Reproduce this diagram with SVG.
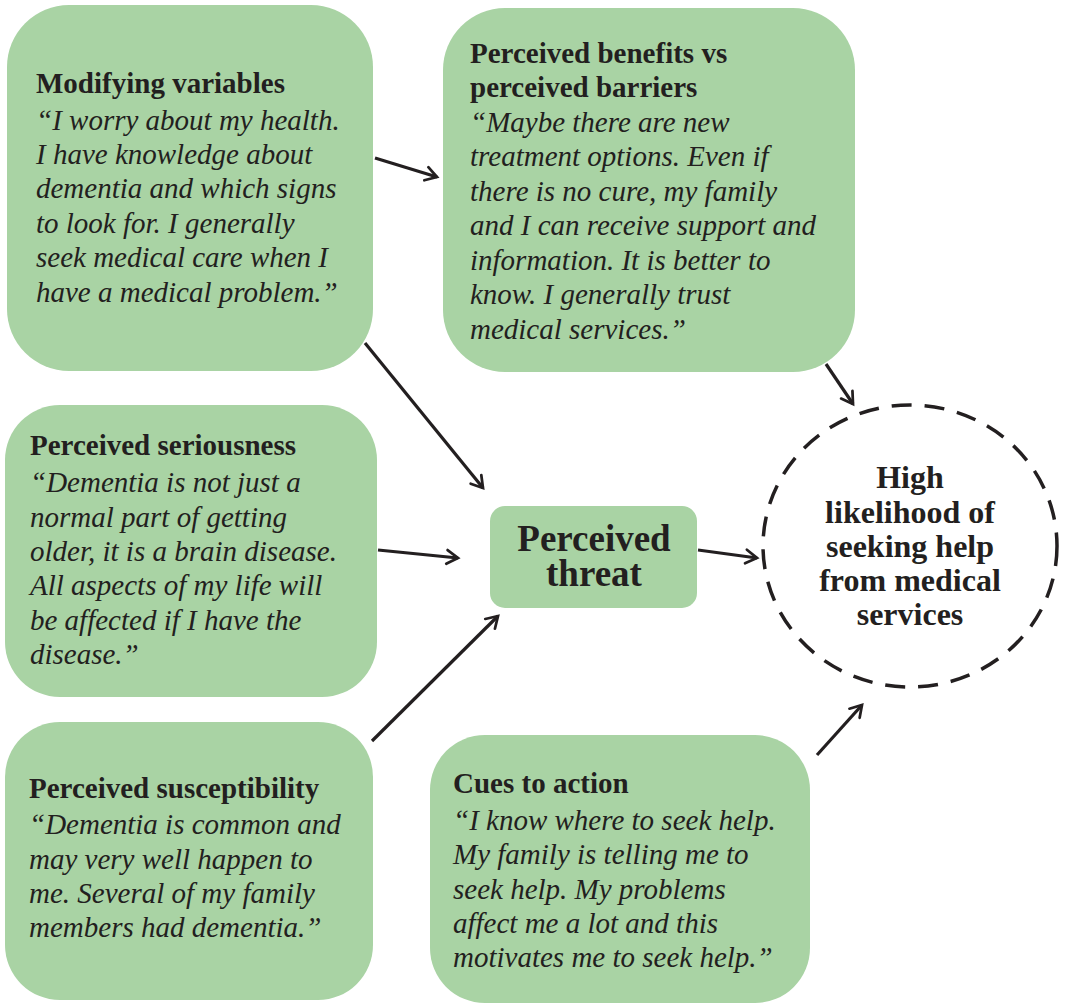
<svg xmlns="http://www.w3.org/2000/svg" width="1070" height="1005" viewBox="0 0 1070 1005">
<defs>
<style>
.box{fill:#a9d3a4;}
text{font-family:'Liberation Serif','DejaVu Serif',serif;fill:#231f20;}
.h{font-weight:bold;font-size:29px;}
.q{font-style:italic;font-size:29px;}
.big{font-weight:bold;font-size:37px;}
.c{font-weight:bold;font-size:32px;}
.conn line{stroke:#231f20;stroke-width:3.2;fill:none;}
</style>
<marker id="ah" markerWidth="12" markerHeight="12" viewBox="-12 -6 14 12" refX="0" refY="0" orient="auto" markerUnits="userSpaceOnUse" overflow="visible">
<path d="M-13,-8 L0,0 L-13,8" fill="none" stroke="#231f20" stroke-width="3.2" stroke-linecap="round" stroke-linejoin="miter"/>
</marker>
</defs>
<rect width="1070" height="1005" fill="#ffffff"/>

<g font-family="'Liberation Serif', 'DejaVu Serif', serif">
<g id="modifying">
<rect class="box" x="7" y="5" width="366" height="366" rx="62"/>
<text class="h" x="36" y="93">Modifying variables</text>
<text class="q" x="36" y="130">“I worry about my health.</text>
<text class="q" x="36" y="164">I have knowledge about</text>
<text class="q" x="36" y="198">dementia and which signs</text>
<text class="q" x="36" y="233">to look for. I generally</text>
<text class="q" x="36" y="267">seek medical care when I</text>
<text class="q" x="36" y="302">have a medical problem.”</text>
</g>

<g id="benefits">
<rect class="box" x="443" y="8" width="412" height="364" rx="62"/>
<text class="h" x="470" y="63">Perceived benefits vs</text>
<text class="h" x="470" y="97">perceived barriers</text>
<text class="q" x="470" y="132">“Maybe there are new</text>
<text class="q" x="470" y="166">treatment options. Even if</text>
<text class="q" x="470" y="201">there is no cure, my family</text>
<text class="q" x="470" y="235">and I can receive support and</text>
<text class="q" x="470" y="270">information. It is better to</text>
<text class="q" x="470" y="304">know. I generally trust</text>
<text class="q" x="470" y="339">medical services.”</text>
</g>

<g id="seriousness">
<rect class="box" x="5" y="405" width="372" height="292" rx="55"/>
<text class="h" x="30" y="455">Perceived seriousness</text>
<text class="q" x="30" y="492">“Dementia is not just a</text>
<text class="q" x="30" y="527">normal part of getting</text>
<text class="q" x="30" y="561">older, it is a brain disease.</text>
<text class="q" x="30" y="595">All aspects of my life will</text>
<text class="q" x="30" y="630">be affected if I have the</text>
<text class="q" x="30" y="664">disease.”</text>
</g>

<g id="susceptibility">
<rect class="box" x="5" y="722" width="368" height="278" rx="55"/>
<text class="h" x="29" y="798">Perceived susceptibility</text>
<text class="q" x="29" y="834">“Dementia is common and</text>
<text class="q" x="29" y="869">may very well happen to</text>
<text class="q" x="29" y="903">me. Several of my family</text>
<text class="q" x="29" y="937">members had dementia.”</text>
</g>

<g id="cues">
<rect class="box" x="430" y="735" width="380" height="268" rx="55"/>
<text class="h" x="453" y="793">Cues to action</text>
<text class="q" x="453" y="830">“I know where to seek help.</text>
<text class="q" x="453" y="864">My family is telling me to</text>
<text class="q" x="453" y="899">seek help. My problems</text>
<text class="q" x="453" y="933">affect me a lot and this</text>
<text class="q" x="453" y="967">motivates me to seek help.”</text>
</g>

<g id="threat">
<rect class="box" x="490" y="506" width="207" height="102" rx="15"/>
<text class="big" x="594" y="551" text-anchor="middle">Perceived</text>
<text class="big" x="594" y="586" text-anchor="middle">threat</text>
</g>

<g id="outcome">
<ellipse cx="910" cy="546" rx="147" ry="141" fill="none" stroke="#231f20" stroke-width="3.5" stroke-dasharray="20,13"/>
<text class="c" x="910" y="488" text-anchor="middle">High</text>
<text class="c" x="910" y="523" text-anchor="middle">likelihood of</text>
<text class="c" x="910" y="557" text-anchor="middle">seeking help</text>
<text class="c" x="910" y="591" text-anchor="middle">from medical</text>
<text class="c" x="910" y="625" text-anchor="middle">services</text>
</g>
</g>

<g id="connectors" class="conn">
<line x1="375" y1="158" x2="437" y2="177" marker-end="url(#ah)"/>
<line x1="365" y1="343" x2="483" y2="488" marker-end="url(#ah)"/>
<line x1="378" y1="550" x2="458" y2="558" marker-end="url(#ah)"/>
<line x1="372" y1="741" x2="498" y2="616" marker-end="url(#ah)"/>
<line x1="698" y1="550" x2="757" y2="558" marker-end="url(#ah)"/>
<line x1="826" y1="364" x2="853" y2="404" marker-end="url(#ah)"/>
<line x1="817" y1="755" x2="862" y2="705" marker-end="url(#ah)"/>
</g>
</svg>
